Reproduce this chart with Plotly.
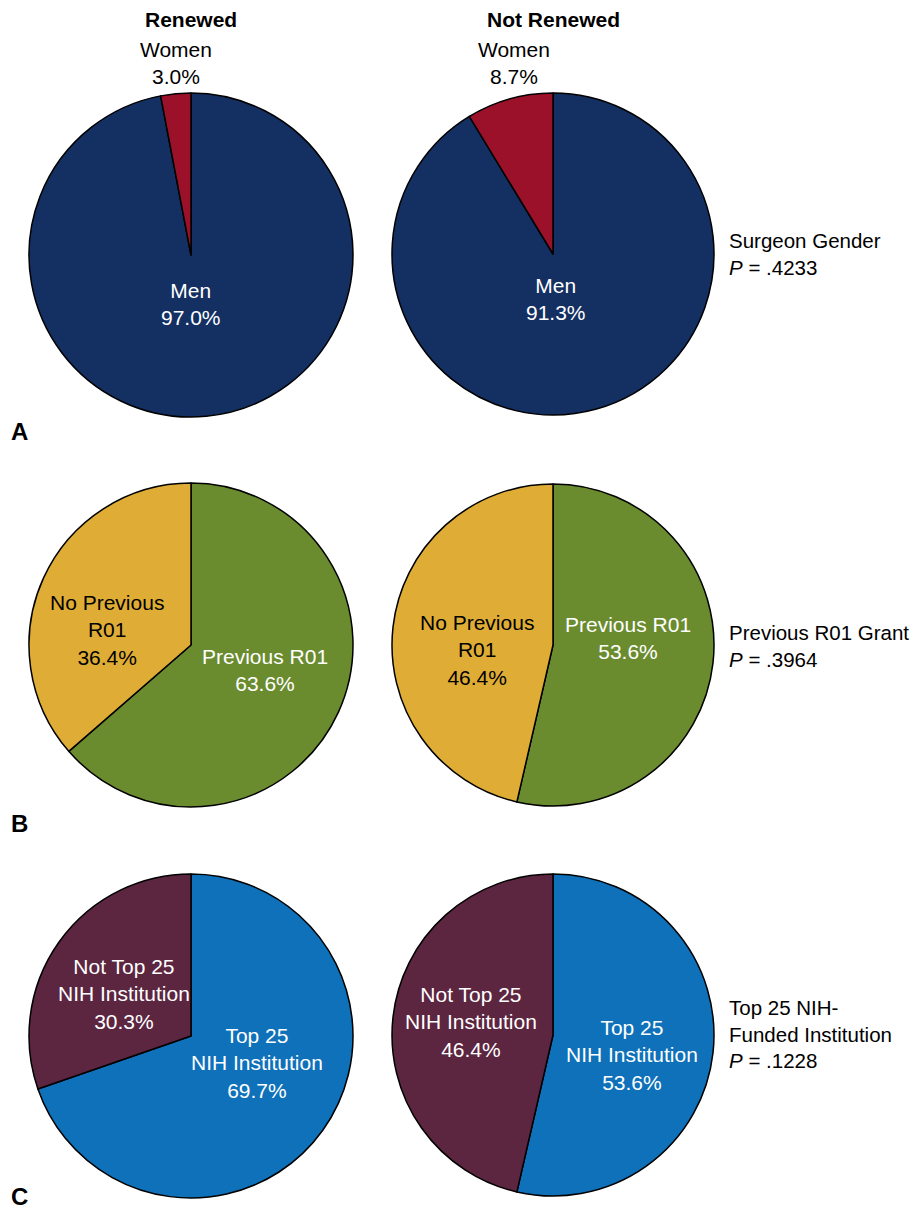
import plotly.graph_objects as go

# ---- data ----
groups = ["Renewed", "Not Renewed"]
panel_letters = ["A", "B", "C"]

gender_labels = ["Men", "Women"]
gender_renewed = [97.0, 3.0]
gender_not_renewed = [91.3, 8.7]

r01_labels = ["Previous R01", "No Previous<br>R01"]
r01_renewed = [63.6, 36.4]
r01_not_renewed = [53.6, 46.4]

nih_labels = ["Top 25<br>NIH Institution", "Not Top 25<br>NIH Institution"]
nih_renewed = [69.7, 30.3]
nih_not_renewed = [53.6, 46.4]

side_titles = ["Surgeon Gender", "Previous R01 Grant", "Top 25 NIH-<br>Funded Institution"]
p_values = [".4233", ".3964", ".1228"]

# ---- style ----
OFF = 8  # page body margin
W, H = 920 - 2 * OFF, 1220 - 2 * OFF
colors = [["#142f61", "#9a1129"], ["#6a8c2f", "#dfad35"], ["#0e71b9", "#5c2540"]]
text_colors = [["white", "black"], ["white", "black"], ["white", "white"]]
FONT = "Liberation Sans, Arial, Helvetica, sans-serif"
FS = 21

panels = [
    (gender_labels, gender_renewed, gender_not_renewed),
    (r01_labels, r01_renewed, r01_not_renewed),
    (nih_labels, nih_renewed, nih_not_renewed),
]

# pie boxes in window pixels: (x0, x1, y0, y1)
boxes = [
    [(29, 353, 93, 417), (392, 714, 93, 415)],
    [(29, 353, 483, 807), (392, 714, 484, 806)],
    [(29, 353, 874, 1198), (392, 714, 874, 1196)],
]

# label window-pixel positions [panel][pie][slice]
label_pos = [
    [[(191, 304), (176, 63)], [(556, 299), (514, 63)]],
    [[(265, 670), (107, 630)], [(628, 638), (477, 650)]],
    [[(257, 1063), (124, 994)], [(632, 1055), (471, 1022)]],
]

def px(x):
    return (x - OFF) / W

def py(y):
    return 1 - (y - OFF) / H

fig = go.Figure()
annotations = []

for i, (labels, ren, notren) in enumerate(panels):
    for j, vals in enumerate([ren, notren]):
        x0, x1, y0, y1 = boxes[i][j]
        fig.add_trace(go.Pie(
            labels=[l.replace("<br>", " ") for l in labels],
            values=vals,
            sort=False,
            direction="clockwise",
            rotation=0,
            textinfo="none",
            hoverinfo="skip",
            showlegend=False,
            marker=dict(colors=colors[i], line=dict(color="black", width=1.5)),
            domain=dict(x=[px(x0), px(x1)], y=[py(y1), py(y0)]),
        ))
        for k, (lab, v) in enumerate(zip(labels, vals)):
            lx, ly = label_pos[i][j][k]
            col = text_colors[i][k]
            if i == 0 and k == 1:
                col = "black"
            annotations.append(dict(
                x=px(lx), y=py(ly), xref="paper", yref="paper",
                text=f"{lab}<br>{v:.1f}%", showarrow=False,
                xanchor="center", yanchor="middle",
                font=dict(size=FS, color=col, family=FONT),
            ))

# column titles
for j, g in enumerate(groups):
    annotations.append(dict(
        x=px([191, 553][j]), y=py(20), xref="paper", yref="paper",
        text=f"<b>{g}</b>", showarrow=False, xanchor="center", yanchor="middle",
        font=dict(size=FS, color="black", family=FONT),
    ))

# side titles
side_y = [254, 646, 1034]
for i in range(3):
    annotations.append(dict(
        x=px(727), y=py(side_y[i]), xref="paper", yref="paper",
        text=f"{side_titles[i]}<br><i>P</i> = {p_values[i]}", showarrow=False,
        xanchor="left", yanchor="middle", align="left",
        font=dict(size=20.5, color="black", family=FONT),
    ))

# panel letters
letter_y = [432, 823]
for i, L in enumerate(panel_letters[:2]):
    annotations.append(dict(
        x=px(9), y=py(letter_y[i]), xref="paper", yref="paper",
        text=f"<b>{L}</b>", showarrow=False, xanchor="left", yanchor="middle",
        font=dict(size=24, color="black", family=FONT),
    ))
annotations.append(dict(
    x=px(9), y=0, xref="paper", yref="paper",
    text=f"<b>{panel_letters[2]}</b>", showarrow=False, xanchor="left", yanchor="bottom",
    font=dict(size=24, color="black", family=FONT),
))

fig.update_layout(
    width=W, height=H,
    margin=dict(l=0, r=0, t=0, b=0),
    paper_bgcolor="white", plot_bgcolor="white",
    annotations=annotations,
)

fig.write_html("out.html")
